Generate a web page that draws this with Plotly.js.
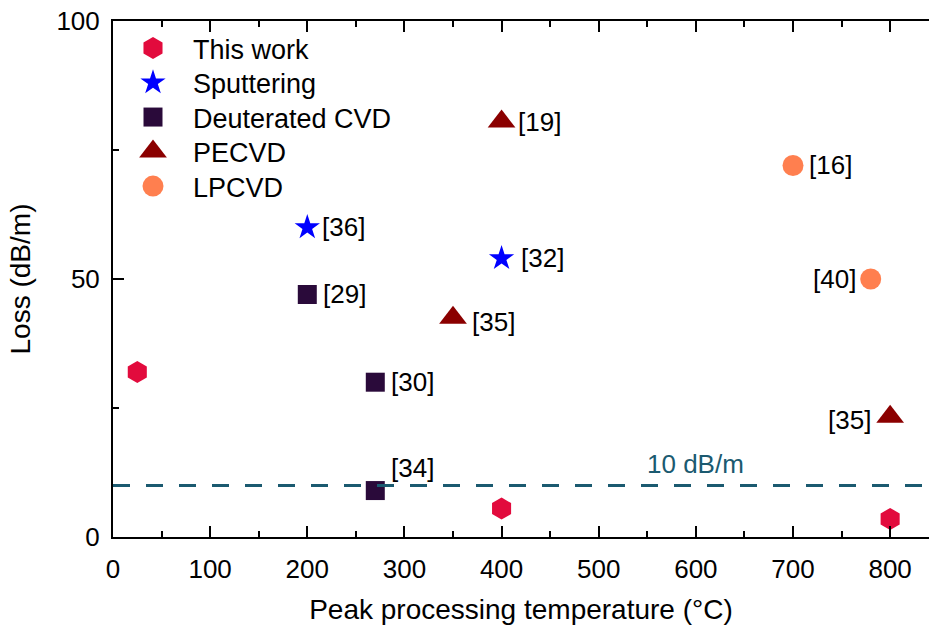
<!DOCTYPE html>
<html>
<head>
<meta charset="utf-8">
<script src="https://cdn.plot.ly/plotly-3.0.1.min.js"></script>
<style>html,body{margin:0;padding:0;background:#fff;}#chart{width:929px;height:630px;}</style>
</head>
<body>
<div id="chart"></div>
<script>
// Data
const thisWorkX = [25, 400, 800];
const thisWorkY = [32, 5.5, 3.5];
const sputterX = [200, 400];
const sputterY = [60, 54];
const sputterRef = ['[36]', '[32]'];
const deutX = [200, 270, 270];
const deutY = [47, 30, 9];
const deutRef = ['[29]', '[30]', '[34]'];
const pecvdX = [400, 350, 800];
const pecvdY = [80.5, 42.5, 23.3];
const pecvdRef = ['[19]', '[35]', '[35]'];
const lpcvdX = [700, 780];
const lpcvdY = [72, 50];
const lpcvdRef = ['[16]', '[40]'];
const seriesNames = ['This work', 'Sputtering', 'Deuterated CVD', 'PECVD', 'LPCVD'];
const threshold = 10;
const thresholdLabel = '10 dB/m';
const xTickVals = [0, 100, 200, 300, 400, 500, 600, 700, 800];
const yTickVals = [0, 50, 100];

const FONT = 'Liberation Sans, Arial, Helvetica, sans-serif';
const markerSizes = [22, 19, 19, 24, 21];
const traces = [
  {x: thisWorkX, y: thisWorkY, name: seriesNames[0], mode: 'markers', type: 'scatter',
   marker: {symbol: 'hexagon', size: markerSizes[0], color: '#e20b3d'}},
  {x: sputterX, y: sputterY, name: seriesNames[1], mode: 'markers', type: 'scatter',
   marker: {symbol: 'star', size: markerSizes[1], color: '#0000ff'}},
  {x: deutX, y: deutY, name: seriesNames[2], mode: 'markers', type: 'scatter',
   marker: {symbol: 'square', size: markerSizes[2], color: '#2a0a3a'}},
  {x: pecvdX, y: pecvdY, name: seriesNames[3], mode: 'markers', type: 'scatter',
   marker: {symbol: 'triangle-up', size: markerSizes[3], color: '#8b0000'}},
  {x: lpcvdX, y: lpcvdY, name: seriesNames[4], mode: 'markers', type: 'scatter',
   marker: {symbol: 'circle', size: markerSizes[4], color: '#ff7f4f'}}
];

// label placement (style only): [xanchor, xshift, yshift]
const place = {
  sput: [['left', 13, 0], ['left', 17, 0]],
  deut: [['left', 14, 0], ['left', 14, 0], ['left', 14, 23]],
  pecvd: [['left', 14, 0], ['left', 17, -4], ['right', -17, -3]],
  lpcvd: [['left', 14, 0], ['right', -13, 0]]
};
const annotations = [];
function addLabels(xs, ys, refs, pl) {
  xs.forEach((x, i) => {
    annotations.push({x: x, y: ys[i], xref: 'x', yref: 'y', text: refs[i], showarrow: false,
      xanchor: pl[i][0], yanchor: 'middle', xshift: pl[i][1], yshift: pl[i][2],
      font: {family: FONT, size: 26, color: '#000'}});
  });
}
addLabels(sputterX, sputterY, sputterRef, place.sput);
addLabels(deutX, deutY, deutRef, place.deut);
addLabels(pecvdX, pecvdY, pecvdRef, place.pecvd);
addLabels(lpcvdX, lpcvdY, lpcvdRef, place.lpcvd);
annotations.push({x: 600, y: threshold, xref: 'x', yref: 'y', text: thresholdLabel, showarrow: false,
  xanchor: 'center', yanchor: 'bottom', yshift: 4, font: {family: FONT, size: 26, color: '#1b5a70'}});

const layout = {
  width: 929, height: 630,
  margin: {l: 113, r: 0, t: 21, b: 93},
  paper_bgcolor: '#fff', plot_bgcolor: '#fff',
  font: {family: FONT, size: 26, color: '#000'},
  showlegend: true,
  legend: {x: 0.0, y: 1.0, xanchor: 'left', yanchor: 'top', bgcolor: 'rgba(0,0,0,0)',
    font: {family: FONT, size: 27, color: '#000'}, tracegroupgap: 0, itemsizing: 'trace', itemwidth: 70},
  xaxis: {range: [0, 840], tickvals: xTickVals, ticks: 'inside', ticklen: 11, tickwidth: 2,
    tickcolor: '#000', showline: true, linecolor: '#000', linewidth: 2, mirror: 'ticks',
    showgrid: false, zeroline: false, ticklabelstandoff: 8,
    minor: {dtick: 50, tick0: 0, ticks: 'inside', ticklen: 6, tickwidth: 2, tickcolor: '#000', showgrid: false},
    tickfont: {family: FONT, size: 26, color: '#000'},
    title: {text: 'Peak processing temperature (°C)', font: {family: FONT, size: 28, color: '#000'}, standoff: 16}},
  yaxis: {range: [0, 100], tickvals: yTickVals, ticks: 'inside', ticklen: 11, tickwidth: 2,
    tickcolor: '#000', showline: true, linecolor: '#000', linewidth: 2,
    showgrid: false, zeroline: false, ticklabelstandoff: 6,
    minor: {dtick: 25, tick0: 0, ticks: 'inside', ticklen: 6, tickwidth: 2, tickcolor: '#000', showgrid: false},
    tickfont: {family: FONT, size: 26, color: '#000'},
    title: {text: 'Loss (dB/m)', font: {family: FONT, size: 28, color: '#000'}, standoff: 18}},
  shapes: [{type: 'line', xref: 'paper', x0: 0, x1: 1, yref: 'y', y0: threshold, y1: threshold,
    line: {color: '#1b5a70', width: 3, dash: '17px,16px'}}],
  annotations: annotations
};
Plotly.newPlot('chart', traces, layout, {displayModeBar: false, staticPlot: true}).then(gd => {
  // tighten legend rows and show legend symbols at the plot's marker sizes
  const rows = gd.querySelectorAll('.legend .traces');
  let first = null;
  rows.forEach((row, i) => {
    const m = /translate\(([-\d.]+),\s*([-\d.]+)\)/.exec(row.getAttribute('transform') || '');
    if (!m) return;
    if (first === null) first = parseFloat(m[2]) + 3;
    row.setAttribute('transform', 'translate(' + m[1] + ',' + (first + i * 34.5) + ')');
    const pt = row.querySelector('.legendpoints path.scatterpts');
    if (pt) {
      const k = markerSizes[i] / 16;
      const t = pt.getAttribute('transform') || '';
      pt.setAttribute('transform', t + ' scale(' + k + ')');
    }
  });
});
</script>
</body>
</html>
